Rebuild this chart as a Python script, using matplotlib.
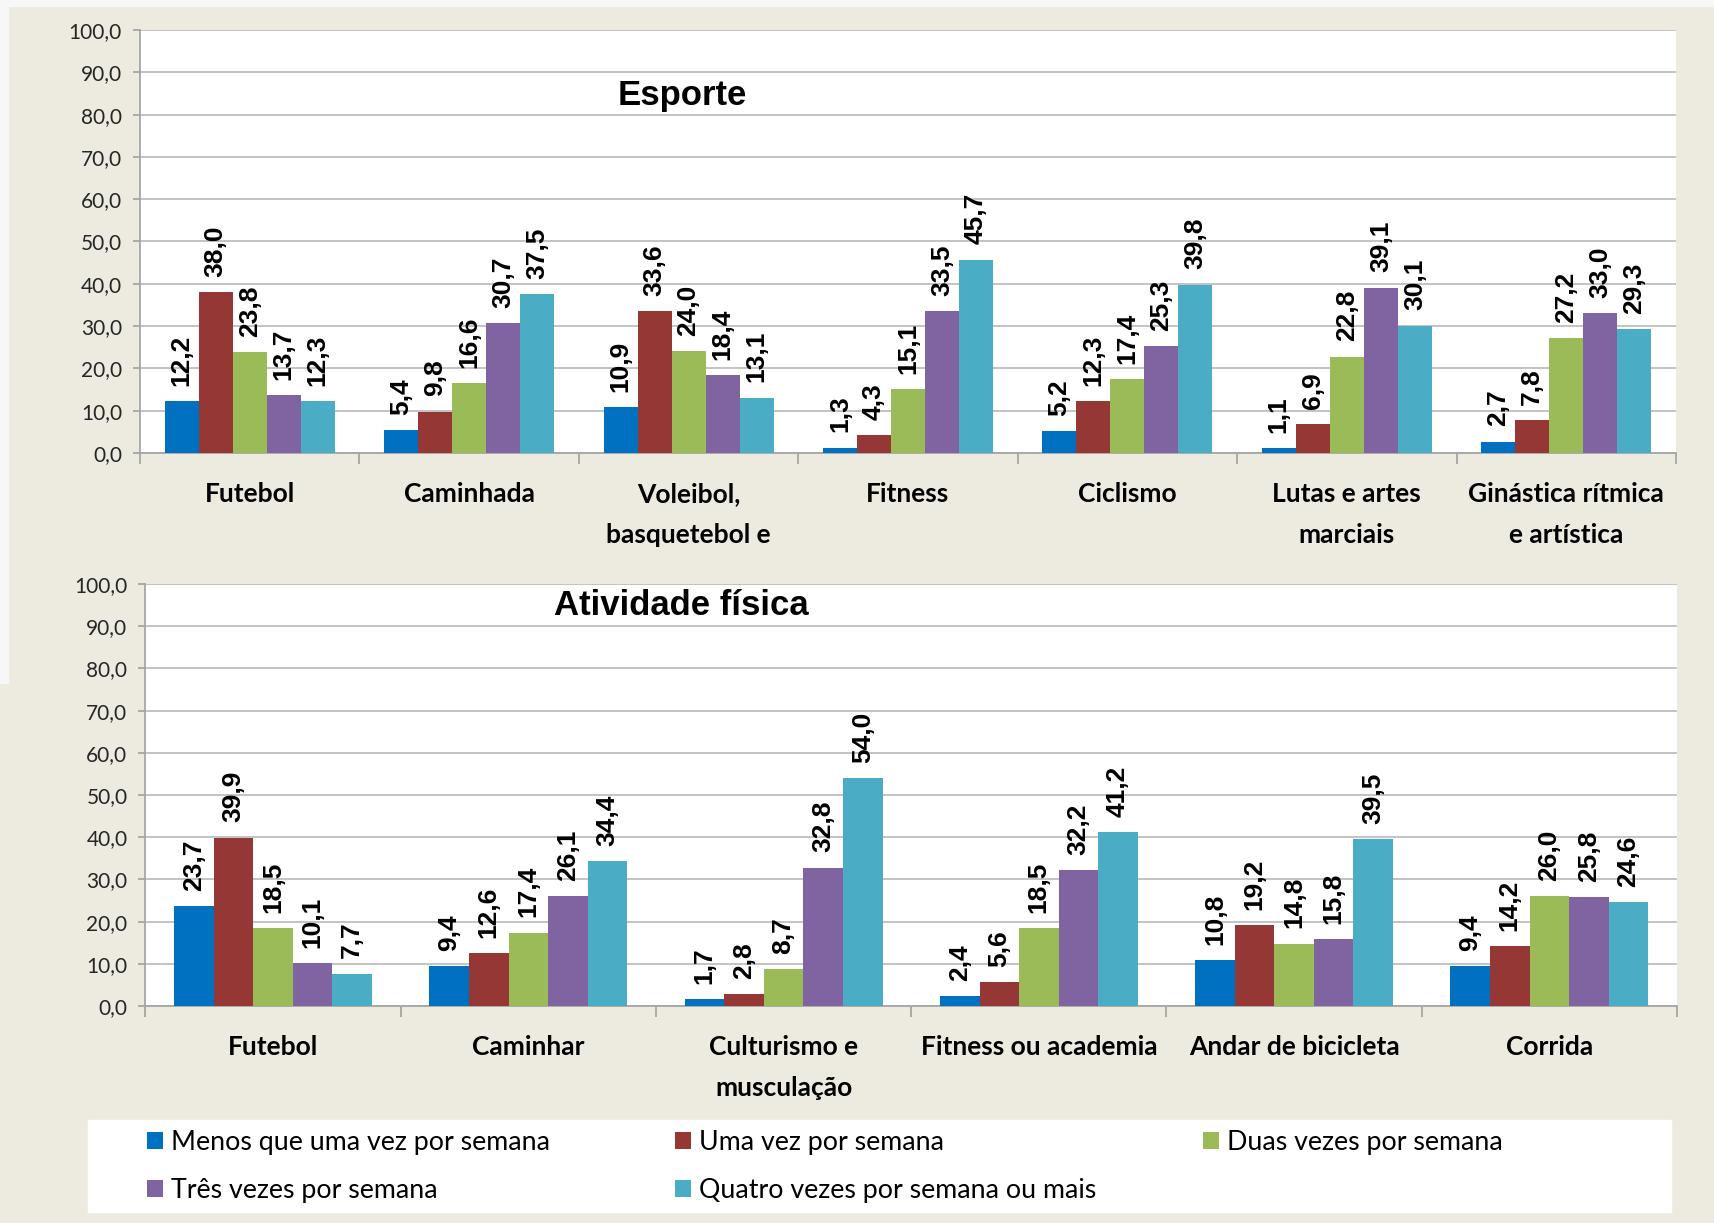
import numpy as np
import matplotlib.pyplot as plt
from matplotlib.patches import Rectangle
from matplotlib.ticker import FixedLocator, FuncFormatter

#--data---
series = ['Menos que uma vez por semana', 'Uma vez por semana', 'Duas vezes por semana',
          'Três vezes por semana', 'Quatro vezes por semana ou mais']
colors = ['#0070C0', '#953735', '#9BBB59', '#8064A2', '#4BACC6']

esporte_cats = ['Futebol', 'Caminhada', 'Voleibol,\nbasquetebol e', 'Fitness', 'Ciclismo',
                'Lutas e artes\nmarciais', 'Ginástica rítmica\ne artística']
esporte_vals = [
    [12.2, 5.4, 10.9, 1.3, 5.2, 1.1, 2.7],
    [38.0, 9.8, 33.6, 4.3, 12.3, 6.9, 7.8],
    [23.8, 16.6, 24.0, 15.1, 17.4, 22.8, 27.2],
    [13.7, 30.7, 18.4, 33.5, 25.3, 39.1, 33.0],
    [12.3, 37.5, 13.1, 45.7, 39.8, 30.1, 29.3],
]

ativ_cats = ['Futebol', 'Caminhar', 'Culturismo e\nmusculação', 'Fitness ou academia',
             'Andar de bicicleta', 'Corrida']
ativ_vals = [
    [23.7, 9.4, 1.7, 2.4, 10.8, 9.4],
    [39.9, 12.6, 2.8, 5.6, 19.2, 14.2],
    [18.5, 17.4, 8.7, 18.5, 14.8, 26.0],
    [10.1, 26.1, 32.8, 32.2, 15.8, 25.8],
    [7.7, 34.4, 54.0, 41.2, 39.5, 24.6],
]

W, H = 1715, 1223
fig = plt.figure(figsize=(W / 100, H / 100), dpi=100, facecolor='#EDEAE0')

# light strips at top / left edge
fig.patches.append(Rectangle((0, 1 - 6 / H), 1, 6 / H, transform=fig.transFigure,
                             color='#F7F7F7', zorder=0))
fig.patches.append(Rectangle((0, 1 - 683 / H), 8 / W, 683 / H, transform=fig.transFigure,
                             color='#F7F7F7', zorder=0))

grey = '#A6A6A6'
bw = 0.155


def draw(ax, cats, vals, title, tx, ty):
    n = len(cats)
    x = np.arange(n)
    handles = []
    for i, v in enumerate(vals):
        b = ax.bar(x + (i - 2) * bw, v, bw, color=colors[i], zorder=3)
        handles.append(b)
        for xi, yi in zip(x + (i - 2) * bw, v):
            ax.annotate(f'{yi:.1f}'.replace('.', ','), (xi, yi), xytext=(0, 11),
                        textcoords='offset points', rotation=90, ha='center', va='bottom',
                        fontsize=19, fontweight='bold', family='Liberation Sans', zorder=4)
    ax.set_xlim(-0.5, n - 0.5)
    ax.set_ylim(0, 100)
    ax.set_yticks(np.arange(0, 101, 10))
    ax.yaxis.set_major_formatter(FuncFormatter(lambda v, p: f'{v:.1f}'.replace('.', ',')))
    ax.grid(axis='y', color='#BEBEBE', lw=1.3, zorder=0)
    ax.set_xticks(x)
    ax.set_xticklabels(cats, fontsize=19, fontweight='bold', family='Lato', linespacing=1.85)
    ax.xaxis.set_minor_locator(FixedLocator(np.arange(n + 1) - 0.5))
    ax.tick_params(axis='x', which='major', length=0, pad=21)
    ax.tick_params(axis='x', which='minor', length=8, color=grey, width=1.3)
    ax.tick_params(axis='y', length=5, color=grey, width=1.3, pad=8, labelsize=15,
                   labelcolor='#262626')
    for lab in ax.get_yticklabels():
        lab.set_family('Lato')
    for s in ['top', 'right']:
        ax.spines[s].set_visible(False)
    for s in ['left', 'bottom']:
        ax.spines[s].set_color(grey)
        ax.spines[s].set_linewidth(1.3)
    ax.text(tx, ty, title, transform=ax.transAxes, ha='center', va='center',
            fontsize=25, fontweight='bold', family='Liberation Sans')
    return handles


ax1 = fig.add_axes([140 / W, 1 - 453 / H, 1536 / W, 423 / H])
handles = draw(ax1, esporte_cats, esporte_vals, 'Esporte', 0.353, 0.845)

ax2 = fig.add_axes([145.5 / W, 1 - 1006 / H, 1531.5 / W, 422 / H])
draw(ax2, ativ_cats, ativ_vals, 'Atividade física', 0.350, 0.95)

# legend box, one legend per column
fig.patches.append(Rectangle((88 / W, 1 - 1212 / H), 1583 / W, 92 / H,
                             transform=fig.transFigure, color='white', zorder=1))
cols = [[0, 3], [1, 4], [2]]
xs = [147, 675, 1203]
for idx, x0 in zip(cols, xs):
    fig.legend([handles[i] for i in idx], [series[i] for i in idx],
               loc='upper left', bbox_to_anchor=(x0 / W, 1 - 1130 / H), frameon=False,
               borderpad=0, borderaxespad=0, handlelength=0.6, handleheight=0.6,
               handletextpad=0.3, labelspacing=0.85, prop={'family': 'Lato', 'size': 19.3})

fig.savefig('out.png', dpi=100, facecolor=fig.get_facecolor())
